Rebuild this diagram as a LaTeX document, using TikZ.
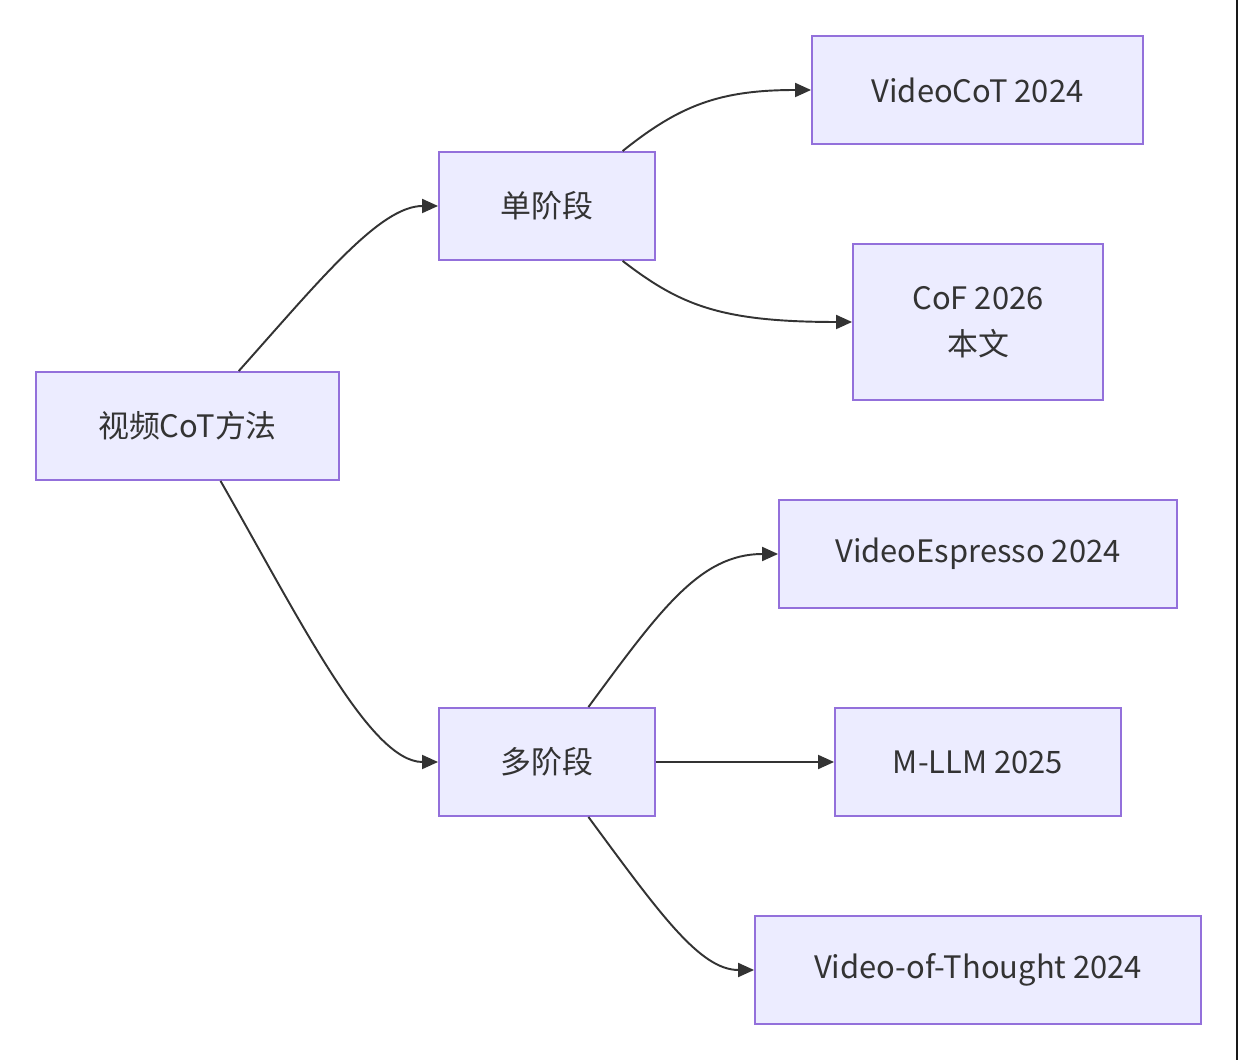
\documentclass[tikz,border=0pt]{standalone}
\usepackage{fontspec}
\setmainfont{Noto Sans CJK SC}
\usetikzlibrary{arrows.meta, positioning}
\definecolor{boxfill}{HTML}{ECECFF}
\definecolor{boxline}{HTML}{9370DB}
\definecolor{edgeline}{HTML}{333333}

\begin{document}
\begin{tikzpicture}[x=0.02cm, y=-0.02cm,
    box/.style={rectangle, draw=boxline, fill=boxfill, line width=1.1pt, text=edgeline,
      align=center, inner sep=0pt, font=\fontsize{17.6}{26.5}\selectfont},
    arr/.style={draw=edgeline, line width=1.1pt, -{Triangle[length=3.2mm, width=2.8mm]}}]
  \useasboundingbox (0, 0) rectangle (1238, 1060);

  % nodes
  \node[box, minimum width=6.06cm, minimum height=2.16cm] (root) at (187.5, 426) {视频CoT方法};
  \node[box, minimum width=4.32cm, minimum height=2.16cm] (single) at (547, 206) {单阶段};
  \node[box, minimum width=4.32cm, minimum height=2.16cm] (multi) at (547, 762) {多阶段};

  \node[box, minimum width=6.62cm, minimum height=2.16cm] (videocot) at (977.5, 90) {VideoCoT 2024};
  \node[box, minimum width=5.0cm, minimum height=3.12cm] (cof) at (978, 322) {CoF 2026\\本文};
  \node[box, minimum width=7.96cm, minimum height=2.16cm] (espresso) at (978, 554) {VideoEspresso 2024};
  \node[box, minimum width=5.72cm, minimum height=2.16cm] (mllm) at (978, 762) {M-LLM 2025};
  \node[box, minimum width=8.92cm, minimum height=2.16cm] (vot) at (978, 970) {Video-of-Thought 2024};

  % edges
  \draw[arr] (root.47) .. controls (320, 280) and (380, 206) .. (single.west);
  \draw[arr] (root.-59) .. controls (300, 620) and (370, 762) .. (multi.west);

  \draw[arr] (single.36.5) .. controls (680, 105) and (720, 90) .. (videocot.west);
  \draw[arr] (single.-36.5) .. controls (680, 305) and (720, 322) .. (cof.west);

  \draw[arr] (multi.53) .. controls (660, 610) and (700, 554) .. (espresso.west);
  \draw[arr] (multi.east) -- (mllm.west);
  \draw[arr] (multi.-53) .. controls (660, 914) and (700, 970) .. (vot.west);

  % right border
  \draw[color=black!90, line width=1.2pt] (1237, 0) -- (1237, 1060);
\end{tikzpicture}
\end{document}
